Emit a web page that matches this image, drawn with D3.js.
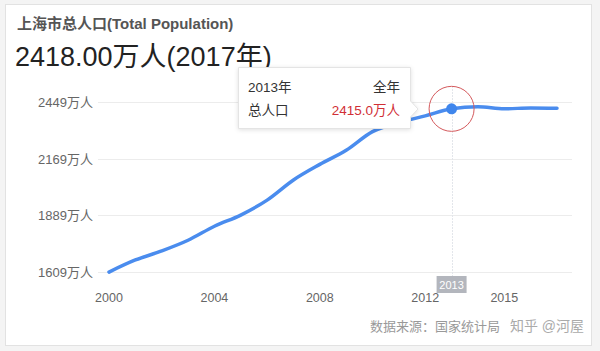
<!DOCTYPE html>
<html>
<head>
<meta charset="utf-8">
<script src="https://cdn.jsdelivr.net/npm/d3@7"></script>
<style>
  body { margin: 0; background: #f4f4f4; }
  svg { display: block; font-family: "Liberation Sans", Arial, "Noto Sans CJK SC", sans-serif; }
</style>
</head>
<body>
<svg id="chart"></svg>
<script>
// 上海市常住人口 (万人)
const years = [2000, 2001, 2002, 2003, 2004, 2005, 2006, 2007, 2008, 2009, 2010, 2011, 2012, 2013, 2014, 2015, 2016, 2017];
const population = [1608.6, 1668.3, 1713.0, 1765.8, 1835.0, 1890.3, 1964.1, 2063.6, 2140.7, 2210.3, 2302.7, 2347.5, 2380.4, 2415.2, 2425.7, 2415.3, 2419.7, 2418.3];
const yTicks = [1609, 1889, 2169, 2449];
const xTicks = [2000, 2004, 2008, 2012, 2015];
const focusYear = 2013;

const width = 600, height = 351;
const svg = d3.select("#chart").attr("width", width).attr("height", height);

// card
svg.append("rect")
  .attr("x", 5.5).attr("y", 4.5).attr("width", 586).attr("height", 341)
  .attr("fill", "#fff").attr("stroke", "#e2e2e2");

svg.append("text").attr("x", 17).attr("y", 29)
  .attr("font-size", 15).attr("font-weight", "bold").attr("fill", "#555")
  .text("上海市总人口(Total Population)");
svg.append("text").attr("x", 15).attr("y", 66)
  .attr("font-size", 27).attr("fill", "#222")
  .text("2418.00万人(2017年)");

const x = d3.scaleLinear().domain([2000, 2017]).range([109, 557]);
const y = d3.scaleLinear().domain([1609, 2449]).range([272, 102]);

// gridlines + y labels
const grid = svg.append("g");
grid.selectAll("line").data(yTicks).enter().append("line")
  .attr("x1", 98).attr("x2", 572)
  .attr("y1", d => Math.round(y(d)) + 0.5).attr("y2", d => Math.round(y(d)) + 0.5)
  .attr("stroke", "#ececec");
grid.selectAll("text").data(yTicks).enter().append("text")
  .attr("x", 93).attr("y", d => y(d) + 5)
  .attr("text-anchor", "end").attr("font-size", 13).attr("fill", "#666")
  .text(d => d + "万人");

// x labels
svg.append("g").selectAll("text").data(xTicks).enter().append("text")
  .attr("x", d => x(d)).attr("y", 302)
  .attr("text-anchor", "middle").attr("font-size", 12.5).attr("fill", "#666")
  .text(d => d);

// focus guide line
const fx = x(focusYear);
const fy = y(population[years.indexOf(focusYear)]);
svg.append("line")
  .attr("x1", Math.round(fx) + 0.5).attr("x2", Math.round(fx) + 0.5)
  .attr("y1", 86).attr("y2", 276)
  .attr("stroke", "#e3e6eb").attr("stroke-dasharray", "2,1");

// line
const line = d3.line()
  .x((d, i) => x(years[i]))
  .y(d => y(d))
  .curve(d3.curveMonotoneX);
svg.append("path").datum(population)
  .attr("d", line)
  .attr("fill", "none").attr("stroke", "#4a8cee")
  .attr("stroke-width", 3.5).attr("stroke-linecap", "round");

svg.append("circle").attr("cx", fx).attr("cy", fy).attr("r", 5.5).attr("fill", "#3f86ec");
svg.append("circle").attr("cx", fx).attr("cy", fy).attr("r", 22.5)
  .attr("fill", "none").attr("stroke", "#d4595c").attr("stroke-width", 1);

// year badge on axis
svg.append("rect").attr("x", fx - 15).attr("y", 276).attr("width", 30).attr("height", 17)
  .attr("fill", "#b3b6bd");
svg.append("text").attr("x", fx).attr("y", 289)
  .attr("text-anchor", "middle").attr("font-size", 11).attr("fill", "#fff")
  .text(focusYear);

// tooltip
const tip = svg.append("g");
tip.append("path")
  .attr("d", "M238.5,67.5 H410.5 V101 L418,109 L410.5,117 V128.5 H238.5 Z")
  .attr("fill", "#fff").attr("stroke", "#e4e4e4")
  .style("filter", "drop-shadow(0px 1px 2px rgba(0,0,0,0.12))");
tip.append("text").attr("x", 248).attr("y", 92).attr("font-size", 13.5).attr("fill", "#333").text(focusYear + "年");
tip.append("text").attr("x", 400).attr("y", 92).attr("text-anchor", "end").attr("font-size", 13.5).attr("fill", "#333").text("全年");
tip.append("text").attr("x", 248).attr("y", 115).attr("font-size", 13.5).attr("fill", "#333").text("总人口");
tip.append("text").attr("x", 400).attr("y", 115).attr("text-anchor", "end").attr("font-size", 13.5).attr("fill", "#d12f36")
  .text(d3.format(".1f")(2415.0) + "万人");

// source + watermark, placed side by side so they don't collide
svg.append("text").attr("x", 500).attr("y", 331).attr("text-anchor", "end").attr("font-size", 13).attr("fill", "#999")
  .text("数据来源：国家统计局");
svg.append("text").attr("x", 584).attr("y", 331).attr("text-anchor", "end").attr("font-size", 14).attr("fill", "#aaa")
  .text("知乎 @河屋");
</script>
</body>
</html>
